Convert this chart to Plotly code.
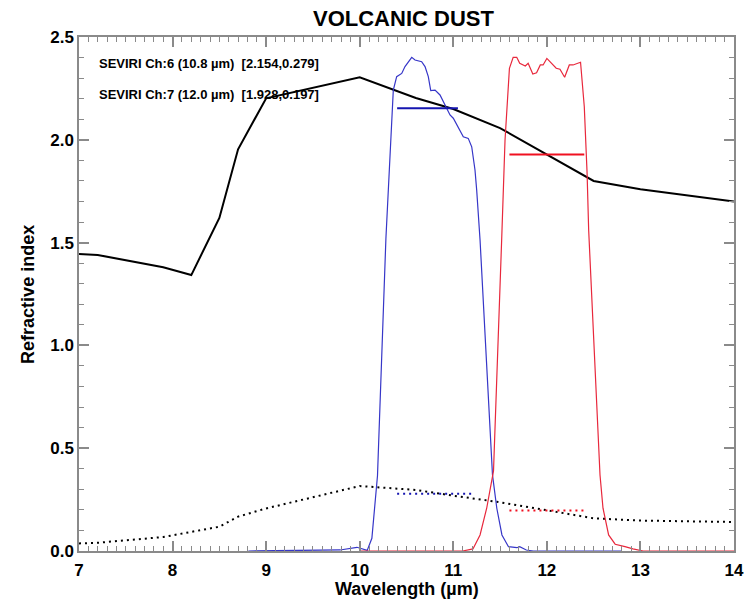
import plotly.graph_objects as go

# Refractive index of volcanic dust (real part, solid) and imaginary part (dotted)
wl = [7.0, 7.2, 7.9, 8.2, 8.5, 8.7, 9.0, 10.0, 10.6, 11.0, 11.5, 12.5, 13.0, 14.0]
n_real = [1.444, 1.44, 1.38, 1.342, 1.62, 1.954, 2.202, 2.304, 2.203, 2.15, 2.057, 1.80, 1.76, 1.70]
n_imag = [0.037, 0.040, 0.068, 0.094, 0.118, 0.167, 0.207, 0.316, 0.297, 0.269, 0.237, 0.159, 0.148, 0.141]

# SEVIRI channel 6 (10.8 um) spectral response, plotted on the index scale
ch6_wl = [8.81, 9.79, 9.97, 10.03, 10.08, 10.13, 10.16, 10.19, 10.28, 10.359, 10.395, 10.449,
          10.484, 10.556, 10.591, 10.662, 10.698, 10.733, 10.759, 10.805, 10.858, 10.911,
          10.965, 11.0, 11.054, 11.107, 11.16, 11.197, 11.232, 11.25, 11.286, 11.419,
          11.465, 11.52, 11.59, 11.68, 11.71, 11.78, 11.855, 12.8]
ch6_resp = [0.0, 0.005, 0.018, 0.010, 0.003, 0.062, 0.208, 0.366, 1.52, 2.242, 2.307, 2.323,
            2.356, 2.401, 2.388, 2.38, 2.356, 2.307, 2.239, 2.242, 2.218, 2.169,
            2.121, 2.105, 2.056, 2.015, 2.007, 1.966, 1.853, 1.756, 1.513, 0.37,
            0.208, 0.078, 0.021, 0.016, 0.021, 0.005, 0.0, 0.0]

# SEVIRI channel 7 (12.0 um) spectral response
ch7_wl = [10.0, 11.1, 11.21, 11.286, 11.357, 11.43, 11.517, 11.553, 11.6, 11.64, 11.678,
          11.71, 11.77, 11.80, 11.85, 11.89, 11.93, 11.96, 12.0, 12.05, 12.1, 12.14,
          12.19, 12.24, 12.28, 12.36, 12.40, 12.43, 12.447, 12.568, 12.60, 12.66,
          12.73, 12.835, 12.92, 13.03, 14.0]
ch7_resp = [0.0, 0.0, 0.010, 0.078, 0.208, 0.39, 1.513, 1.999, 2.348, 2.401, 2.401,
            2.372, 2.359, 2.372, 2.32, 2.326, 2.364, 2.364, 2.396, 2.372, 2.348, 2.343,
            2.304, 2.364, 2.364, 2.377, 2.161, 1.837, 1.56, 0.37, 0.208, 0.078,
            0.033, 0.021, 0.010, 0.0, 0.0]

# Channel-averaged values and half-width ranges
ch_names = ["SEVIRI Ch:6 (10.8 µm)", "SEVIRI Ch:7 (12.0 µm)"]
ch_real = [2.154, 1.928]
ch_imag = [0.279, 0.197]
ch_real_range = [[10.4, 11.05], [11.6, 12.4]]
ch_imag_range = [[10.4, 11.2], [11.6, 12.4]]

X_RANGE = [7, 14]
Y_RANGE = [0, 2.5]

FONT = "Liberation Sans"
filt_colors = ["#3636c8", "#e8283c"]
mark_colors = ["#1515b0", "#f01020"]
AXC = "#8a8a8a"

fig = go.Figure()
fig.add_trace(go.Scatter(x=wl, y=n_real, mode="lines",
                         line=dict(color="black", width=2), showlegend=False))
fig.add_trace(go.Scatter(x=wl, y=n_imag, mode="lines",
                         line=dict(color="black", width=2, dash="2px,4px"), showlegend=False))
fig.add_trace(go.Scatter(x=ch6_wl, y=ch6_resp, mode="lines",
                         line=dict(color=filt_colors[0], width=1.2), showlegend=False))
fig.add_trace(go.Scatter(x=ch7_wl, y=ch7_resp, mode="lines",
                         line=dict(color=filt_colors[1], width=1.2), showlegend=False))
for i in range(2):
    fig.add_trace(go.Scatter(x=ch_real_range[i], y=[ch_real[i], ch_real[i]], mode="lines",
                             line=dict(color=mark_colors[i], width=2), showlegend=False))
    fig.add_trace(go.Scatter(x=ch_imag_range[i], y=[ch_imag[i], ch_imag[i]], mode="lines",
                             line=dict(color=mark_colors[i], width=2, dash="2px,4px"),
                             showlegend=False))

# empty trace that only carries the overlaid tick-mark axes
fig.add_trace(go.Scatter(x=[], y=[], xaxis="x2", yaxis="y2", showlegend=False,
                         hoverinfo="skip"))

tick_common = dict(showline=True, linecolor=AXC, linewidth=1.5, mirror="ticks",
                   ticks="inside", ticklen=10, tickcolor=AXC, tickwidth=1.5,
                   showgrid=False, zeroline=False)

fig.update_layout(
    width=753, height=600, plot_bgcolor="white",
    margin=dict(l=79, r=19, t=37, b=49),
    xaxis=dict(range=X_RANGE, dtick=1,
               minor=dict(ticks="inside", dtick=0.1, ticklen=5, tickcolor=AXC, tickwidth=1),
               tickfont=dict(family=FONT, size=17, color="black", weight="bold"),
               ticklabelstandoff=3, automargin=False, **tick_common),
    yaxis=dict(range=Y_RANGE, dtick=0.5, tickformat=".1f",
               minor=dict(ticks="inside", dtick=0.1, ticklen=5, tickcolor=AXC, tickwidth=1),
               tickfont=dict(family=FONT, size=17, color="black", weight="bold"),
               automargin=False, **tick_common),
    xaxis2=dict(range=X_RANGE, dtick=1, overlaying="x", anchor="y2", showticklabels=False,
                minor=dict(ticks="inside", dtick=0.1, ticklen=5, tickcolor=AXC, tickwidth=1),
                automargin=False, **tick_common),
    yaxis2=dict(range=Y_RANGE, dtick=0.5, overlaying="y", anchor="x2", showticklabels=False,
                minor=dict(ticks="inside", dtick=0.1, ticklen=5, tickcolor=AXC, tickwidth=1),
                automargin=False, **tick_common),
)

# Titles as paper-referenced annotations (plot area spans 655 x 514 px)
fig.add_annotation(x=0.5, y=-0.073, xref="paper", yref="paper", xanchor="center",
                   yanchor="middle", showarrow=False, text="<b>Wavelength (µm)</b>",
                   font=dict(family=FONT, size=18, color="black"))
fig.add_annotation(x=-0.078, y=0.5, xref="paper", yref="paper", xanchor="center",
                   yanchor="middle", showarrow=False, textangle=-90,
                   text="<b>Refractive index</b>",
                   font=dict(family=FONT, size=18, color="black"))
fig.add_annotation(x=(403 - 79) / 655, y=(551 - 19) / 514, xref="paper", yref="paper",
                   xanchor="center", yanchor="middle", showarrow=False,
                   text="<b>VOLCANIC DUST</b>",
                   font=dict(family=FONT, size=22, color="black"))

ann_y = [0.9488, 0.8885]
for i in range(2):
    fig.add_annotation(x=0.027, y=ann_y[i], xref="paper", yref="paper", xanchor="left",
                       yanchor="middle",
                       text=f"<b>{ch_names[i]}\u00a0\u00a0[{ch_real[i]:.3f},{ch_imag[i]:.3f}]</b>",
                       showarrow=False,
                       font=dict(family=FONT, size=13, color="black"))

fig.write_html("out.html")
